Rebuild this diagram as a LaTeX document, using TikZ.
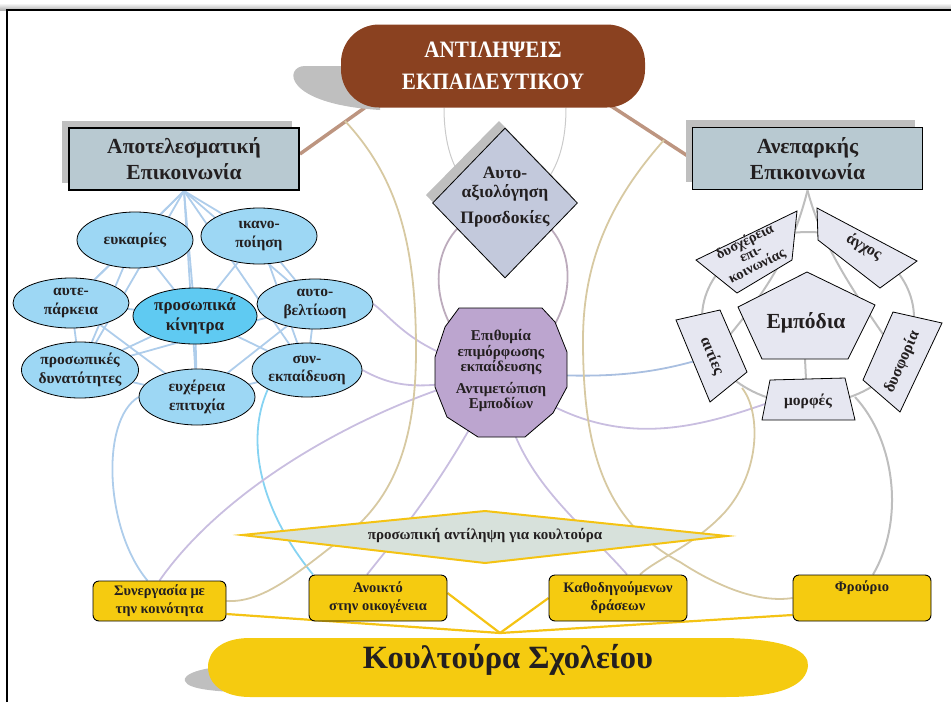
\documentclass[tikz,border=0pt]{standalone}
\usepackage{fontspec}
\setmainfont{Liberation Serif}
\newfontfamily\narrowserif[FakeStretch=0.9]{Liberation Serif}
\usetikzlibrary{shapes.geometric}

\definecolor{brownfill}{HTML}{8A4120}
\definecolor{brownlink}{HTML}{BD9580}
\definecolor{shadowgray}{HTML}{BFBFBF}
\definecolor{boxfill}{HTML}{B8C9D1}
\definecolor{bubblefill}{HTML}{9DD7F4}
\definecolor{bubbledark}{HTML}{5FCAF2}
\definecolor{netblue}{HTML}{AECDEB}
\definecolor{cyanlink}{HTML}{86D3F2}
\definecolor{diafill}{HTML}{C3C9DC}
\definecolor{octfill}{HTML}{BCA5CF}
\definecolor{mauve}{HTML}{BCABBC}
\definecolor{lilac}{HTML}{C9BEE0}
\definecolor{tanlink}{HTML}{D7C9A2}
\definecolor{greylink}{HTML}{BEBEBE}
\definecolor{pale}{HTML}{E6E7F1}
\definecolor{gold}{HTML}{F5CB10}
\definecolor{goldlink}{HTML}{F4C314}
\definecolor{percfill}{HTML}{D7E1DB}
\definecolor{ink}{HTML}{231F20}
\definecolor{steellink}{HTML}{A9BFE0}

\newcommand\sizeto[2]{\fontsize{#1}{#2}\selectfont}
\pgfdeclarelayer{links}
\pgfdeclarelayer{shades}
\pgfsetlayers{links,shades,main}

\begin{document}
\begin{tikzpicture}[x=1pt,y=-1pt,
  every node/.style={text=ink},
  headbox/.style={draw=black, line width=1.8pt, fill=boxfill, minimum width=230pt,
    minimum height=62pt, align=center, font=\sizeto{21.5}{26}\bfseries},
  bubble/.style={ellipse, draw=black, line width=0.8pt, fill=bubblefill, inner sep=0pt,
    minimum width=116pt, minimum height=56pt, align=center, font=\sizeto{15.5}{18.5}\bfseries},
  goldbox/.style={draw=black, line width=0.9pt, fill=gold, rounded corners=6pt,
    minimum width=138pt, minimum height=46pt, align=center, font=\sizeto{14.5}{18}\bfseries},
  polyline/.style={draw=black, line width=0.8pt},
  tag/.style={align=center, inner sep=0pt, font=\sizeto{16}{15}\bfseries},
  net/.style={netblue, line width=1.8pt},
  lilacline/.style={lilac, line width=1.8pt},
  tanline/.style={tanlink, line width=1.8pt},
  greyarc/.style={greylink, line width=2pt},
  goldline/.style={goldlink, line width=2.2pt},
]
\useasboundingbox (0,0) rectangle (951,702);

% page frame
\shade[top color=white, bottom color=black!30] (0,3) rectangle (951,10);
\draw[line width=1.2pt] (7,702) -- (7,10) -- (951,10);

% ---------- title ----------
\node[fill=brownfill, rounded corners=38pt, minimum width=304pt, minimum height=83pt,
  align=center, text=white, font=\narrowserif\sizeto{23.5}{32}\bfseries]
  (head) at (493,66) {ΑΝΤΙΛΗΨΕΙΣ\\ΕΚΠΑΙΔΕΥΤΙΚΟΥ};

\node[headbox] (good) at (184,159) {Αποτελεσματική\\Επικοινωνία};
\node[headbox] (poor) at (807.5,158.5) {Ανεπαρκής\\Επικοινωνία};

% ---------- centre column ----------
\node[diamond, draw=black, line width=0.8pt, fill=diafill, minimum width=145pt,
  minimum height=150pt, inner sep=0pt] (selfd) at (505,203) {};
\node[align=center, font=\sizeto{17.5}{19}\bfseries] (selft) at (505,197)
  {Αυτο-\\αξιολόγηση\\[7pt]Προσδοκίες};

\draw[polyline, fill=octfill] (459,308) -- (542,308) -- (555,322) -- (567,352) -- (567,387)
  -- (553,413) -- (525,437) -- (478,437) -- (447,417) -- (435,387) -- (435,357) -- (445,327) -- cycle;
\node[align=center, font=\sizeto{15}{15.5}\bfseries] (wish) at (501,371)
  {Επιθυμία\\επιμόρφωσης\\εκπαίδευσης\\[6pt]Αντιμετώπιση\\Εμποδίων};

% ---------- left cluster ----------
\node[bubble] (chances) at (135,240) {ευκαιρίες};
\node[bubble] (content) at (259,236) {ικανο-\\ποίηση};
\node[bubble, minimum height=50pt] (selfsuf) at (71,303) {αυτε-\\πάρκεια};
\node[bubble, fill=bubbledark, minimum width=124pt, font=\sizeto{17}{20}\bfseries]
  (motive) at (195,316) {προσωπικά\\κίνητρα};
\node[bubble, minimum height=50pt] (improve) at (315,304) {αυτο-\\βελτίωση};
\node[bubble] (ability) at (80,370) {προσωπικές\\δυνατότητες};
\node[bubble] (ease) at (197,397) {ευχέρεια\\επιτυχία};
\node[bubble, minimum width=110pt, minimum height=54pt] (cotrain) at (307,370) {συν-\\εκπαίδευση};

% ---------- right cluster ----------
\draw[polyline, fill=pale] (807,272) -- (875,305) -- (848,359) -- (762,359) -- (738,307) -- cycle;
\node[font=\sizeto{21.5}{24}\bfseries] (obst) at (806,323) {Εμπόδια};

\draw[polyline, fill=pale] (696,260) -- (797,211) -- (792,260) -- (737,293) -- cycle;
\node[tag, rotate=27, font=\sizeto{14.5}{13.5}\bfseries] (hard) at (751,254) {δυσχέρεια\\επι-\\κοινωνίας};
\draw[polyline, fill=pale] (817,208) -- (917,261) -- (880,288) -- (818,240) -- cycle;
\node[tag, rotate=-30] (stress) at (864,247) {άγχος};
\draw[polyline, fill=pale] (676,320) -- (720,310) -- (747,372) -- (710,402) -- cycle;
\node[tag, rotate=-68] (causes) at (712,356) {αιτίες};
\draw[polyline, fill=pale] (893,312) -- (942,323) -- (900,412) -- (863,380) -- cycle;
\node[tag, rotate=66] (unease) at (902,362) {δυσφορία};
\draw[polyline, fill=pale] (770,380) -- (845,378) -- (855,420) -- (762,420) -- cycle;
\node[tag, font=\sizeto{15.5}{15}\bfseries] (forms) at (808,401) {μορφές};

\coordinate (obstS) at (805,359);
\coordinate (formsN) at (806,379);
\coordinate (formsW) at (765,404);
\coordinate (ring) at (808,318);
\coordinate (ringSE) at (855,397);

% ---------- culture band ----------
\draw[goldlink, line width=2pt, fill=percfill] (242,535) -- (485,511) -- (727,536) -- (485,563) -- cycle;
\node[font=\sizeto{15}{16}\bfseries] (perc) at (485,536) {προσωπική αντίληψη για κουλτούρα};

\node[goldbox, minimum width=133pt, minimum height=40pt] (commun) at (159.5,601) {Συνεργασία με\\την κοινότητα};
\node[goldbox] (family) at (378,598) {Ανοικτό\\στην οικογένεια};
\node[goldbox] (guided) at (618,598) {Καθοδηγούμενων\\δράσεων};
\node[goldbox] (fort) at (862,598) {Φρούριο\\\strut};

\fill[gold] (250,638) -- (725,638) .. controls (790,639) and (809,652) .. (808,666)
  .. controls (806,684) and (785,697) .. (725,697) -- (250,697)
  .. controls (222,697) and (208,683) .. (208,667) .. controls (208,651) and (222,638) .. (250,638) -- cycle;
\node[font=\sizeto{32.5}{36}\bfseries] (culture) at (508,660) {Κουλτούρα Σχολείου};
\coordinate (hub) at (500,633);

% ---------- drop shadows ----------
\begin{pgfonlayer}{shades}
  \fill[shadowgray] (62,121) rectangle (292,183);
  \fill[shadowgray] (686,120) rectangle (915,182);
  \fill[shadowgray] (380,66) -- (305,66) .. controls (284,66) and (282,104) .. (380,110) -- cycle;
  \fill[shadowgray] (499,121) -- (571,195) -- (498,271) -- (426,195) -- cycle;
  \fill[shadowgray] (240,666) .. controls (200,666) and (182,675) .. (185,681)
    .. controls (188,690) and (220,692) .. (260,693) -- cycle;
\end{pgfonlayer}

% ---------- connectors ----------
\begin{pgfonlayer}{links}
  \coordinate (headL) at (370,104);
  \coordinate (headR) at (608,104);
  \draw[brownlink, line width=3.5pt] (headL) -- ([yshift=5pt]good.east);
  \draw[brownlink, line width=3.5pt] (headR) -- (poor.west);

  % thin arcs from the title to the diamond
  \draw[greylink!80, line width=1pt] ([xshift=-49pt]head.south) .. controls (444,170) and (470,200) .. (selfd.center);
  \draw[greylink!80, line width=1pt] ([xshift=73pt]head.south) .. controls (566,170) and (540,200) .. (selfd.center);

  % diamond to polygon
  \draw[mauve, line width=1.8pt] (selfd.center) .. controls (405,225) and (430,345) .. (wish.center);
  \draw[mauve, line width=1.8pt] (selfd.center) .. controls (601,225) and (576,345) .. (wish.center);

  % network of the left cluster
  \foreach \n in {chances,content,selfsuf,motive,improve,ability,ease,cotrain}
    \draw[net] (good.south) -- (\n.center);
  \foreach \a/\b in {chances/selfsuf, chances/motive, chances/ability, content/motive,
      content/improve, content/cotrain, selfsuf/ability, selfsuf/ease, selfsuf/motive,
      motive/ability, motive/ease, motive/cotrain, improve/cotrain, improve/ease,
      improve/ability, ability/ease, ease/cotrain}
    \draw[net] (\a.center) -- (\b.center);

  \draw[net] (ease.west) .. controls (100,420) and (105,530) .. ([xshift=-12pt]commun.north);
  \draw[cyanlink, line width=1.8pt] (cotrain.south west) .. controls (245,440) and (260,510) .. ([xshift=-65pt]family.north);

  % lilac links from the polygon
  \draw[lilacline] (improve.east) .. controls (395,320) and (415,355) .. (wish.center);
  \draw[lilacline] (cotrain.east) .. controls (390,385) and (420,395) .. (wish.center);
  \draw[lilacline] (wish.center) .. controls (380,400) and (230,480) .. (commun.north);
  \draw[lilacline] (wish.center) .. controls (450,470) and (415,515) .. ([xshift=-11pt]family.north);
  \draw[lilacline] (wish.center) .. controls (505,470) and (580,520) .. ([xshift=9pt]guided.north);
  \draw[lilacline] (wish.center) .. controls (600,455) and (690,430) .. (formsW);
  \draw[steellink, line width=1.8pt] (wish.center) .. controls (610,382) and (660,372) .. (causes.center);

  % tan links
  \coordinate (tanL) at (345,121);
  \coordinate (tanR) at (664,140);
  \coordinate (tanE) at (742,388);
  \draw[tanline] (tanL) .. controls (400,180) and (416,250) .. (416,350)
    .. controls (416,440) and (395,500) .. (340,540) .. controls (295,575) and (262,603) .. (commun.east);
  \draw[tanline] (tanR) .. controls (620,190) and (583,250) .. (583,340)
    .. controls (583,440) and (600,520) .. (680,562) .. controls (720,588) and (760,603) .. (fort.west);
  \draw[tanline] (tanE) .. controls (760,410) and (762,470) .. (725,512)
    .. controls (695,545) and (655,560) .. ([xshift=22pt]guided.north);

  % grey links of the right cluster
  \draw[greyarc] (ring) ellipse [x radius=106pt, y radius=86pt];
  \draw[greyarc] (poor.south) .. controls (790,260) and (760,300) .. (causes.center);
  \draw[greyarc] (poor.south) .. controls (825,255) and (860,300) .. (unease.center);
  \draw[greyarc] (obstS) -- (formsN);
  \draw[greyarc] (ringSE) .. controls (895,440) and (905,520) .. ([xshift=11pt]fort.north);

  % gold links into the school culture
  \draw[goldline] ([yshift=-13pt]commun.east) -- (hub);
  \draw[goldline] ([yshift=5pt]family.east) -- (hub);
  \draw[goldline] (guided.west) -- (hub);
  \draw[goldline] ([yshift=-17pt]fort.west) -- (hub);
\end{pgfonlayer}
\end{tikzpicture}
\end{document}
